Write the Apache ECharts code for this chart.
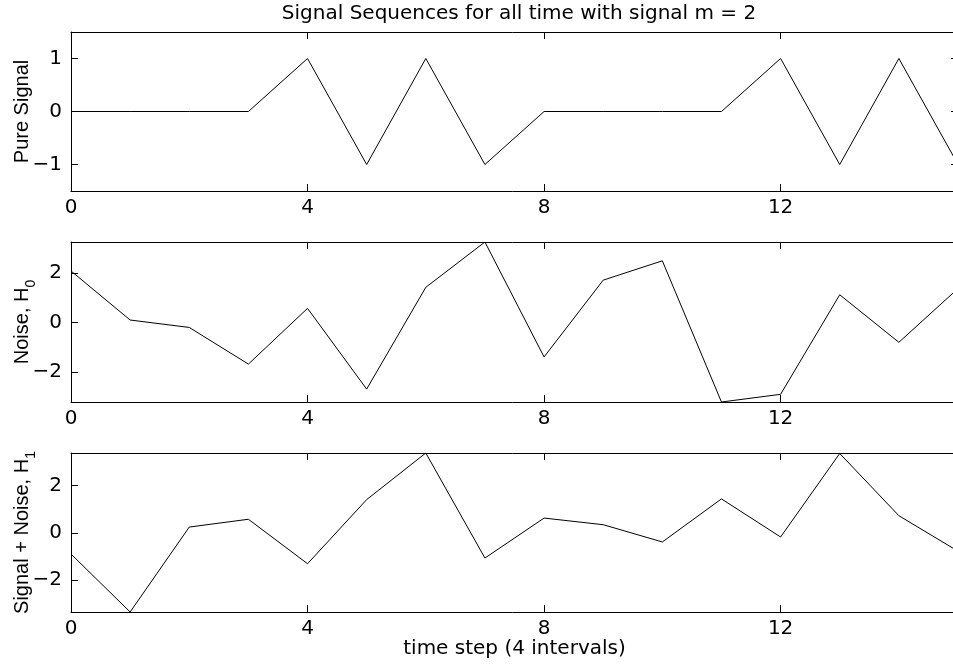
<!DOCTYPE html>
<html>
<head>
<meta charset="utf-8">
<script src="https://cdn.jsdelivr.net/npm/echarts@6/dist/echarts.min.js"></script>
<style>
html,body{margin:0;padding:0;background:#fff;}
#c{width:953px;height:666px;}
</style>
</head>
<body>
<div id="c"></div>
<script>
// ---- data ----
const timeSteps = [0,1,2,3,4,5,6,7,8,9,10,11,12,13,14,15];
const pureSignal = [0,0,0,0,1,-1,1,-1,0,0,0,0,1,-1,1,-1];
const noiseH0 = [2.09,0.11,-0.19,-1.67,0.58,-2.68,1.43,3.26,-1.38,1.72,2.50,-3.20,-2.89,1.13,-0.79,1.38];
const signalNoiseH1 = [-0.89,-3.34,0.25,0.58,-1.30,1.41,3.38,-1.06,0.63,0.35,-0.38,1.44,-0.17,3.36,0.73,-0.77];
const xTicks = [0,4,8,12];
const yTicks1 = [-1,0,1];
const yTicks23 = [-2,0,2];
const titleText = 'Signal Sequences for all time with signal m = 2';
const xName = 'time step (4 intervals)';

// ---- chart ----
const HFONT = 'DejaVu Sans';
const VFONT = 'Liberation Sans';
const chart = echarts.init(document.getElementById('c'), null, {renderer:'canvas'});
const fmt = v => String(v).replace('-', '\u2212');

const gridBase = {left:71, width:887, outerBoundsMode:'none', containLabel:false};
const grids = [
  Object.assign({top:32, height:159}, gridBase),
  Object.assign({top:242, height:160}, gridBase),
  Object.assign({top:453, height:159}, gridBase)
];
const panels = [
  {data: pureSignal, ticks: yTicks1, min: -1.5, max: 1.5,
   name: '{a|Pure Signal}'},
  {data: noiseH0, ticks: yTicks23, min: 'dataMin', max: 'dataMax',
   name: '{a|Noise, H}{s|0}'},
  {data: signalNoiseH1, ticks: yTicks23, min: 'dataMin', max: 'dataMax',
   name: '{a|Signal + Noise, H}{s|1}'}
];

const lineStyle = {color:'#000', width:1};
const xAxis = [], yAxis = [], series = [];
panels.forEach((p, i) => {
  xAxis.push({
    type:'value', gridIndex:i, min:0, max:15, position:'bottom',
    axisLine:{show:true, onZero:false, lineStyle},
    axisTick:{show:true, inside:true, length:7, customValues:xTicks, lineStyle},
    axisLabel:{show:true, customValues:xTicks, margin:7, fontSize:20, fontFamily:HFONT, color:'#000'},
    splitLine:{show:false},
    name: i === 2 ? xName : '',
    nameLocation:'middle', nameGap:27, nameMoveOverlap:false,
    nameTextStyle:{fontSize:20, fontFamily:HFONT, color:'#000'}
  });
  xAxis.push({
    type:'value', gridIndex:i, min:0, max:15, position:'top',
    axisLine:{show:true, onZero:false, lineStyle},
    axisTick:{show:true, inside:true, length:7, customValues:xTicks, lineStyle},
    axisLabel:{show:false}, splitLine:{show:false}
  });
  yAxis.push({
    type:'value', gridIndex:i, min:p.min, max:p.max, position:'left',
    axisLine:{show:true, onZero:false, lineStyle},
    axisTick:{show:true, inside:true, length:7, customValues:p.ticks, lineStyle},
    axisLabel:{show:true, customValues:p.ticks, margin:9, fontSize:20, fontFamily:HFONT, color:'#000', formatter:fmt},
    splitLine:{show:false},
    name:p.name, nameLocation:'middle', nameGap:33, nameRotate:90, nameMoveOverlap:false,
    nameTextStyle:{
      color:'#000',
      rich:{
        a:{fontSize:20, fontFamily:VFONT, color:'#000', lineHeight:26, verticalAlign:'top'},
        s:{fontSize:14, fontFamily:VFONT, color:'#000', lineHeight:26, verticalAlign:'bottom'}
      }
    }
  });
  yAxis.push({
    type:'value', gridIndex:i, min:p.min, max:p.max, position:'right',
    axisLine:{show:true, onZero:false, lineStyle},
    axisTick:{show:true, inside:true, length:7, customValues:p.ticks, lineStyle},
    axisLabel:{show:false}, splitLine:{show:false}
  });
  series.push({
    type:'line', xAxisIndex:2*i, yAxisIndex:2*i,
    data: timeSteps.map((t, k) => [t, p.data[k]]),
    showSymbol:false, symbol:'none', lineStyle:{color:'#000', width:1},
    animation:false, silent:true
  });
});

chart.setOption({
  backgroundColor:'#fff',
  animation:false,
  title:{
    text:titleText, left:514, top:-1, textAlign:'center',
    textStyle:{fontSize:20, fontWeight:'normal', fontFamily:HFONT, color:'#000'}
  },
  grid:grids, xAxis, yAxis, series
});
</script>
</body>
</html>
